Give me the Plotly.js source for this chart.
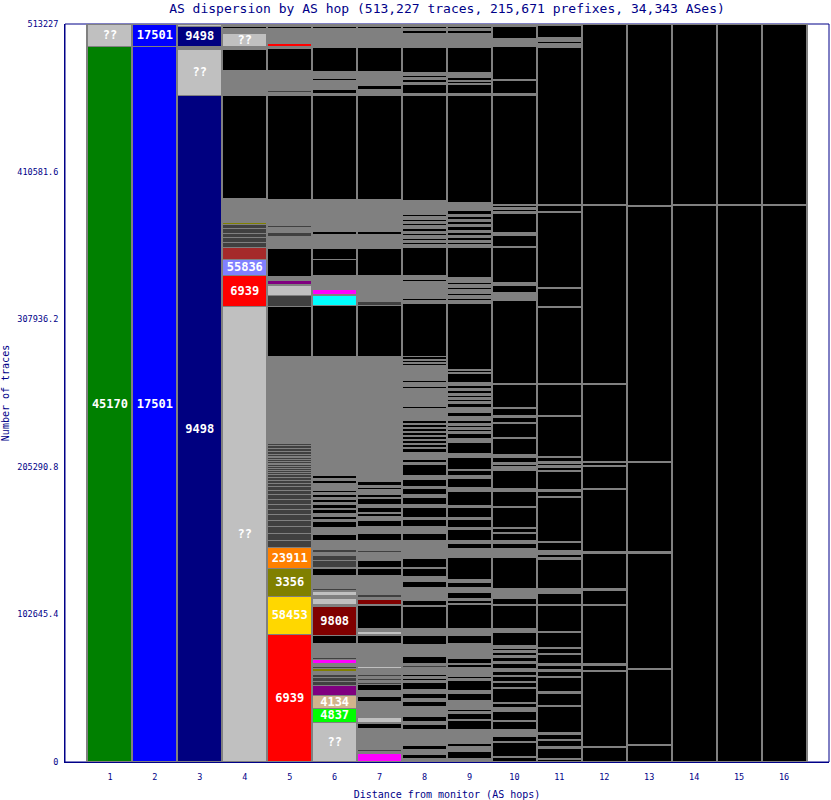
<!DOCTYPE html>
<html><head><meta charset="utf-8">
<script src="https://cdn.plot.ly/plotly-3.0.1.min.js"></script>
<style>html,body{margin:0;padding:0;background:#fff}</style>
</head><body><div id="chart" style="width:831px;height:800px"></div>
<script>
// ---- data ----
const hops = [1,2,3,4,5,6,7,8,9,10,11,12,13,14,15,16];
const yTickVals = [0, 102645.4, 205290.8, 307936.2, 410581.6, 513227];
const yTickText = ['0','102645.4','205290.8','307936.2','410581.6','513227'];

// segment sizes (traces), bottom -> top
const hop1_counts = [497928, 15299];
const hop2_counts = [497928, 15299];
const hop3_counts = [463851, 31990, 2086, 13909, 1391];
const hop4_counts = [317116, 21558, 11127, 8345, 3477, 3477, 2782, 3477, 2782, 1391, 2086, 695, 13909, 71629, 1391, 695, 1391, 695, 13213, 14604, 2086, 9041, 3477, 1391, 1391];
const hop5_counts = [89015, 26426, 19472, 14604, 4868, 4868, 4868, 4173, 4173, 3477, 3477, 3477, 3477, 2782, 2782, 2086, 2086, 2086, 2086, 1391, 1391, 1391, 1391, 1391, 695, 1391, 1391, 1391, 695, 1391, 2086, 2086, 2086, 1391, 60502, 34771, 7650, 6954, 695, 2782, 2782, 19472, 3477, 695, 695, 695, 2782, 2782, 3477, 1391, 18081, 72325, 695, 1391, 1391, 13909, 15299, 1391, 2086, 10431, 1391, 1391];
const hop6_counts = [27817, 9736, 9041, 6954, 2782, 2782, 2086, 2086, 2086, 1391, 2086, 2782, 1391, 9736, 5563, 20167, 1391, 4173, 2086, 2782, 695, 1391, 9041, 4868, 695, 4868,
 3477, 2086, 2086, 2782, 695, 2782, 4173, 695, 4173, 4173, 1391, 2086, 2086, 2782, 695, 2782, 1391, 2086, 1391, 2086, 1391, 1391, 695, 2086, 695, 1391, 2086, 1391, 2086, 1391, 695, 6954, 695, 2782, 695, 3477, 695, 1391, 695, 63284,
 35467, 6954, 695, 3477, 6259, 695, 2782, 11127, 7650, 3477, 695, 5563, 2086, 2782, 695, 9041, 695, 9041,
 72325, 1391, 2782, 4173, 695, 1391, 1391, 4868, 16690, 13213, 1391, 1391];
const hop7_counts = [6259, 1391, 1391, 1391, 695, 12518, 3477, 695, 3477, 1391, 695, 1391, 695, 6954, 3477, 1391, 695, 2086, 4173, 1391, 1391, 1391, 1391, 1391, 4173, 1391, 1391, 695, 1391, 695, 1391, 695, 9736,
 5563, 695, 2086, 2086, 15995, 695, 3477, 1391, 2086, 2782, 695, 9736, 4868, 695, 4868,
 5563, 1391, 6954, 4868, 4868, 4173, 2782, 2086, 695, 3477, 2086, 4173, 695, 2086, 3477, 1391, 1391, 2782, 2086, 695, 2086, 695, 6954, 695, 2782, 695, 4173, 695, 1391, 695, 4173, 695, 58416,
 35467, 2782, 2782, 695, 2086, 695, 8345, 695, 2782, 18777, 2086, 695, 1391, 695, 4868, 2086, 6259, 695, 1391, 695, 13213,
 72325, 1391, 695, 2086, 2782, 1391, 695, 2086, 695, 4868, 16690, 13213, 1391, 1391];
const hop8_counts = [1391, 1391, 2782, 3477, 2782, 11127, 3477, 2086, 3477, 1391,
 695, 4868, 3477, 2086, 3477, 2782, 4868, 1391, 1391, 1391,
 1391, 4868, 1391, 1391, 4868, 8345, 6259, 695, 695, 3477,
 15299, 695, 3477, 2782, 695, 5563, 4173, 3477, 5563, 695,
 6259, 5563, 695, 6259, 4868, 4868, 4868, 1391, 6954, 2086,
 4868, 2086, 4173, 1391, 4868, 2782, 7650, 1391, 2086, 4868,
 2782,
 695, 2086, 695, 2086, 695, 2086, 695, 2086, 695, 2086, 695, 2086, 695, 2086,
 8345, 1391, 12518, 1391, 2782, 1391, 10431, 1391, 695, 1391, 695, 2086,
 36858, 2086, 1391, 1391, 695, 2086, 695, 3477, 695, 2782, 1391, 2782,
 19472, 2086, 1391, 1391, 1391, 2086, 1391, 1391, 2086, 2086, 1391, 1391, 1391, 2086, 1391, 2086, 695, 6954, 73020, 1391, 6259, 1391, 2086, 1391, 1391, 2086, 17386, 9736, 2086, 1391, 1391, 1391];
const hop9_counts = [2782, 4868, 3477, 2086, 9736, 6259, 695, 4173, 1391, 1391,
 6259, 4868, 2086, 6954, 1391, 1391, 6259, 2086, 695, 3477,
 10431, 5563, 4868, 16690, 695, 2086, 1391, 4173, 3477, 3477,
 2086, 15299, 6259, 3477, 2086, 7650, 1391, 5563, 1391, 6954,
 1391, 9736, 2782, 6259, 2086, 3477, 695, 8345, 2782, 7650,
 2782, 3477, 1391, 1391, 1391, 1391, 1391, 2086, 2782, 2782,
 3477, 2782, 1391, 1391, 1391, 1391, 1391, 2086, 1391, 2086,
 2086, 6259, 695, 1391, 695, 45898, 2086, 1391, 2086, 1391,
 2782, 1391, 2086, 1391, 3477, 20863, 2086, 1391, 1391, 2086,
 1391, 2086, 1391, 2782, 1391, 2086, 1391, 2086, 1391, 2782,
 5563, 74411, 1391, 6259, 695, 1391, 695, 2086, 1391, 695,
 1391, 17386, 9736, 2086, 1391, 1391, 1391];
const hop10_counts = [3477, 695, 9736, 695, 3477, 4868, 5563, 695, 6259, 2782,
 2782, 695, 9736, 695, 3477, 695, 3477, 695, 2782, 2086,
 3477, 1391, 2782, 1391, 2086, 1391, 1391, 2086, 9041, 2782,
 15995, 695, 4173, 1391, 695, 1391, 695, 2782, 21558, 1391,
 695, 4173, 3477, 2086, 4868, 695, 2782, 695, 13909, 695,
 10431, 2086, 12518, 1391, 695, 695, 1391, 1391, 3477, 2086,
 11127, 695, 9736, 695, 3477, 1391, 4868, 695, 15995, 695,
 57721, 1391, 695, 1391, 695, 1391, 4868, 2086, 24340, 695,
 7650, 2086, 13213, 1391, 1391, 1391, 1391, 695, 75802, 1391,
 9041, 695, 22949, 1391, 695, 1391, 695, 1391, 8345, 1391];
const hop11_counts = [2086, 695, 6954, 1391, 4173, 695, 3477, 1391, 18081, 695,
 8345, 1391, 9736, 695, 3477, 1391, 2782, 1391, 6259, 695,
 3477, 695, 10431, 695, 18081, 695, 7650, 695, 695, 2086,
 20167, 1391, 2086, 2782, 5563, 695, 30599, 695, 3477, 1391,
 12518, 695, 2086, 1391, 1391, 1391, 2782, 695, 27817, 695,
 21558, 695, 52853, 695, 12518, 695, 52157, 695, 4173, 695,
 109182, 695, 695, 1391, 1391, 695, 695, 1391, 8345, 695];
const hop12_counts = [10431, 695, 52157, 695, 3477, 1391, 40335, 695, 9736, 1391, 24340, 1391, 43117, 695, 15299, 695, 2086, 695, 53548, 695, 123786, 695, 125177];
const hop13_counts = [11822, 695, 52157, 695, 79974, 1391, 61893, 695, 177335, 695, 125873];
const hop14_counts = [387354, 695, 125177];
const hop15_counts = [387354, 695, 125177];
const hop16_counts = [387354, 695, 125177];

// AS labels drawn inside segments (segment index -> label)
const hop1_labels = {0:'45170', 1:'??'};
const hop2_labels = {0:'17501', 1:'17501'};
const hop3_labels = {0:'9498', 1:'??', 3:'9498'};
const hop4_labels = {0:'??', 1:'6939', 2:'55836', 21:'??'};
const hop5_labels = {0:'6939', 1:'58453', 2:'3356', 3:'23911'};
const hop6_labels = {0:'??', 1:'4837', 2:'4134', 15:'9808'};

// ---- styles ----
const palette = {K:'#000000', G:'#808080', D:'#404040', L:'#C0C0C0', R:'#FF0000', r:'#B00000',
  Y:'#FFD700', O:'#808000', F:'#FF8000', N:'#000080', B:'#0000FF', E:'#008000', V:'#8080FF',
  W:'#A52A2A', P:'#800080', M:'#FF00FF', C:'#00FFFF', A:'#00FF00', T:'#D2B48C', m:'#800000'};
const hop1_colors = 'EL';
const hop2_colors = 'BB';
const hop3_colors = 'NLGNL';
const hop4_colors = 'LRVWDDDDDOGKGKGKGKGKGLGKG';
const hop5_colors = 'RYOF' + 'D'.repeat(20) + 'r' + 'DDD' + 'C' + 'DDDDD' + 'GKDLGPGKGDGDGDGDGKLGDGKGRGKG';
const hop6_colors = 'LATPDDDGODGMDGKmGLGLGDGKGD' + 'DGDGLGKLGKGKGKGKGKGKGKLGLGKGKGDGKGKGKGKG' + 'KCGMGKGKKGKGKGKGKG' + 'KG'.repeat(6);
const hop7_colors = 'MGDGDGKGLGDGDGKGLGKDGDGDGLGDGDGKG' + 'KGLGKGmGDGLGKGK' + 'GDG' + 'KG'.repeat(15) + 'KDGLG' + 'KG'.repeat(8) + 'KG'.repeat(7);
const hop8_colors = 'LGKGKGKGKG' + 'LGKGKGKGKG' + 'KGDGKGKGLG' + 'KGKGLGKGKG' + 'KGKGKGKGKG' + 'KGKGKGKGKG' + 'K' + 'GK'.repeat(7) + 'GKGKGKGKGKGK' + 'KGKGKGKGKGKG' + 'KG'.repeat(16);
const hop9_colors = 'G' + 'KG'.repeat(58);
const hop10_colors = 'KG'.repeat(50);
const hop11_colors = 'KG'.repeat(35);
const hop12_colors = 'KG'.repeat(11) + 'K';
const hop13_colors = 'KG'.repeat(5) + 'K';
const hop14_colors = 'KGK';
const hop15_colors = 'KGK';
const hop16_colors = 'KGK';

const columns = [
  [hop1_counts, hop1_colors, hop1_labels], [hop2_counts, hop2_colors, hop2_labels],
  [hop3_counts, hop3_colors, hop3_labels], [hop4_counts, hop4_colors, hop4_labels],
  [hop5_counts, hop5_colors, hop5_labels], [hop6_counts, hop6_colors, hop6_labels],
  [hop7_counts, hop7_colors, {}], [hop8_counts, hop8_colors, {}],
  [hop9_counts, hop9_colors, {}], [hop10_counts, hop10_colors, {}],
  [hop11_counts, hop11_colors, {}], [hop12_counts, hop12_colors, {}],
  [hop13_counts, hop13_colors, {}], [hop14_counts, hop14_colors, {}],
  [hop15_counts, hop15_colors, {}], [hop16_counts, hop16_colors, {}]
];

const NAVY = '#000088';
const maxSeg = Math.max(...columns.map(c => c[0].length));
const traces = [];
for (let k = 0; k < maxSeg; k++) {
  const x = [], y = [], col = [], txt = [];
  columns.forEach((c, i) => {
    if (k < c[0].length) {
      x.push(hops[i]); y.push(c[0][k]);
      col.push(palette[c[1][k]] || '#000000');
      txt.push(c[2][k] || '');
    }
  });
  traces.push({
    type: 'bar', x: x, y: y, text: txt,
    marker: {color: col, line: {color: '#808080', width: 1}},
    textposition: 'inside', insidetextanchor: 'middle', textangle: 0, constraintext: 'none',
    textfont: {family: 'DejaVu Sans Mono', size: 12, color: '#FFFFFF', weight: 'bold'},
    hoverinfo: 'skip', showlegend: false
  });
}
// column outlines
const totals = columns.map(c => c[0].reduce((a, b) => a + b, 0));
traces.push({
  type: 'bar', x: hops, y: totals, base: hops.map(() => 0),
  marker: {color: 'rgba(0,0,0,0)', line: {color: '#808080', width: 2}},
  hoverinfo: 'skip', showlegend: false
});

const layout = {
  width: 831, height: 800,
  margin: {l: 65, r: 2, t: 24, b: 38},
  paper_bgcolor: '#FFFFFF', plot_bgcolor: '#FFFFFF',
  barmode: 'stack', bargap: 0, hovermode: false, showlegend: false,
  title: {text: 'AS dispersion by AS hop (513,227 traces, 215,671 prefixes, 34,343 ASes)',
    font: {family: 'DejaVu Sans Mono', size: 13, color: NAVY},
    x: 0.5, xref: 'paper', y: 0.99, yref: 'container', yanchor: 'middle'},
  xaxis: {range: [0, 17], tickvals: hops, ticktext: hops.map(String),
    showline: true, linecolor: NAVY, linewidth: 1, showgrid: false, zeroline: false,
    ticks: '', ticklabelstandoff: 7, fixedrange: true,
    tickfont: {family: 'DejaVu Sans Mono', size: 8.5, color: NAVY},
    title: {text: 'Distance from monitor (AS hops)', standoff: 10,
      font: {family: 'DejaVu Sans Mono', size: 10, color: NAVY}}},
  yaxis: {range: [0, 513227], tickvals: yTickVals, ticktext: yTickText,
    showline: true, linecolor: NAVY, linewidth: 1, showgrid: false, zeroline: false,
    ticks: '', ticklabelstandoff: 4, fixedrange: true,
    tickfont: {family: 'DejaVu Sans Mono', size: 8.5, color: NAVY},
    title: {text: 'Number of traces', standoff: 6,
      font: {family: 'DejaVu Sans Mono', size: 10, color: NAVY}}},
  shapes: [{type: 'rect', xref: 'paper', yref: 'paper', x0: 0, x1: 1, y0: 0, y1: 1,
    line: {color: NAVY, width: 1}, layer: 'below'}]
};
Plotly.newPlot('chart', traces, layout, {displayModeBar: false, staticPlot: true});
</script></body></html>
